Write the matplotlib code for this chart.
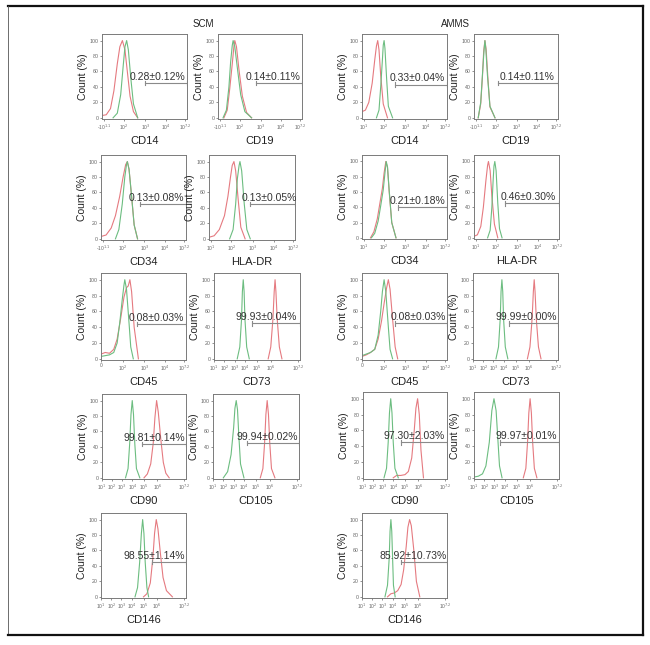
import matplotlib
matplotlib.use("Agg")
from matplotlib import pyplot as plt
from matplotlib.lines import Line2D

plt.rcParams['font.family'] = ['Liberation Sans', 'DejaVu Sans']

# panel order: row by row, SCM left two columns, AMMS right two columns
markers = ['CD14', 'CD19', 'CD14', 'CD19',
           'CD34', 'HLA-DR', 'CD34', 'HLA-DR',
           'CD45', 'CD73', 'CD45', 'CD73',
           'CD90', 'CD105', 'CD90', 'CD105',
           'CD146', 'CD146']
gate_text = ['0.28±0.12%', '0.14±0.11%', '0.33±0.04%', '0.14±0.11%',
             '0.13±0.08%', '0.13±0.05%', '0.21±0.18%', '0.46±0.30%',
             '0.08±0.03%', '99.93±0.04%', '0.08±0.03%', '99.99±0.00%',
             '99.81±0.14%', '99.94±0.02%', '97.30±2.03%', '99.97±0.01%',
             '98.55±1.14%', '85.92±10.73%']
text_start = [0.32, 0.33, 0.32, 0.31,
              0.32, 0.38, 0.33, 0.31,
              0.32, 0.25, 0.34, 0.27,
              0.25, 0.27, 0.24, 0.255,
              0.27, 0.21]
bar_start = [0.51, 0.45, 0.39, 0.28,
             0.46, 0.48, 0.42, 0.37,
             0.42, 0.44, 0.39, 0.42,
             0.48, 0.40, 0.45, 0.31,
             0.60, 0.46]
bar_y = [45, 45, 43, 45,
         45, 45, 40, 45,
         44, 45, 45, 45,
         44, 45, 45, 45,
         45, 45]
tick_set = ['d', 'd', 'a', 'd',
            'd', 'a', 'a', 'a',
            'c', 'b', 'c', 'b',
            'b', 'b', 'b', 'b',
            'b', 'b']

# isotype control (red) and antibody (green) histograms, x as fraction of axis
red_x = [
    [0.00, 0.05, 0.10, 0.14, 0.18, 0.21, 0.24, 0.27, 0.30, 0.33, 0.37, 0.42],
    [0.07, 0.11, 0.14, 0.17, 0.19, 0.20, 0.22, 0.25, 0.29, 0.34, 0.40],
    [0.00, 0.04, 0.08, 0.12, 0.15, 0.17, 0.185, 0.20, 0.22, 0.25, 0.30],
    [0.05, 0.08, 0.10, 0.115, 0.13, 0.145, 0.165, 0.19, 0.25],
    [0.00, 0.06, 0.12, 0.17, 0.22, 0.26, 0.29, 0.31, 0.33, 0.36, 0.39, 0.43],
    [0.00, 0.06, 0.12, 0.18, 0.22, 0.25, 0.27, 0.29, 0.31, 0.34, 0.37, 0.42],
    [0.10, 0.14, 0.18, 0.21, 0.24, 0.26, 0.28, 0.30, 0.32, 0.35, 0.40],
    [0.00, 0.04, 0.08, 0.11, 0.14, 0.16, 0.17, 0.19, 0.21, 0.24, 0.28],
    [0.00, 0.05, 0.10, 0.15, 0.19, 0.23, 0.27, 0.30, 0.32, 0.34, 0.36, 0.39, 0.44],
    [0.63, 0.66, 0.685, 0.70, 0.71, 0.72, 0.735, 0.76, 0.79],
    [0.00, 0.05, 0.10, 0.15, 0.19, 0.23, 0.26, 0.29, 0.31, 0.33, 0.36, 0.39, 0.42],
    [0.64, 0.67, 0.695, 0.71, 0.72, 0.73, 0.745, 0.77, 0.80],
    [0.50, 0.54, 0.58, 0.61, 0.63, 0.65, 0.67, 0.70, 0.73, 0.76, 0.80],
    [0.55, 0.58, 0.60, 0.615, 0.63, 0.645, 0.66, 0.68, 0.72],
    [0.36, 0.40, 0.45, 0.50, 0.54, 0.58, 0.61, 0.63, 0.65, 0.67, 0.69, 0.72],
    [0.58, 0.61, 0.63, 0.645, 0.66, 0.675, 0.69, 0.71, 0.74],
    [0.50, 0.54, 0.58, 0.61, 0.63, 0.65, 0.67, 0.70, 0.73, 0.77, 0.84],
    [0.30, 0.34, 0.38, 0.42, 0.46, 0.49, 0.52, 0.54, 0.56, 0.58, 0.61, 0.64, 0.68],
]
red_y = [
    [3, 4, 12, 35, 70, 92, 100, 88, 58, 28, 8, 0],
    [0, 10, 38, 70, 93, 100, 92, 62, 28, 7, 0],
    [8, 10, 20, 45, 75, 93, 100, 88, 55, 18, 0],
    [0, 18, 52, 86, 100, 88, 52, 14, 0],
    [3, 5, 14, 30, 55, 80, 96, 100, 90, 55, 18, 0],
    [2, 4, 12, 30, 55, 80, 95, 100, 88, 50, 15, 0],
    [0, 8, 25, 45, 65, 85, 100, 92, 60, 20, 0],
    [2, 4, 15, 40, 75, 95, 100, 88, 55, 18, 0],
    [6, 8, 7, 12, 25, 50, 78, 90, 92, 100, 85, 40, 0],
    [0, 15, 50, 85, 100, 85, 50, 15, 0],
    [3, 5, 8, 12, 25, 48, 70, 90, 100, 88, 50, 15, 0],
    [0, 15, 50, 85, 100, 85, 50, 15, 0],
    [0, 5, 18, 45, 78, 100, 85, 50, 20, 6, 0],
    [0, 12, 45, 82, 100, 82, 45, 12, 0],
    [0, 3, 3, 4, 8, 25, 60, 88, 100, 80, 35, 0],
    [0, 12, 45, 82, 100, 82, 45, 12, 0],
    [0, 4, 18, 50, 82, 100, 88, 55, 25, 8, 0],
    [0, 4, 5, 8, 16, 35, 65, 90, 100, 92, 60, 20, 0],
]
green_x = [
    [0.13, 0.18, 0.22, 0.25, 0.27, 0.29, 0.31, 0.34, 0.37, 0.42],
    [0.06, 0.10, 0.13, 0.15, 0.17, 0.18, 0.20, 0.23, 0.27, 0.32, 0.40],
    [0.17, 0.20, 0.22, 0.24, 0.25, 0.26, 0.27, 0.29, 0.31, 0.36],
    [0.05, 0.08, 0.10, 0.12, 0.13, 0.14, 0.16, 0.19, 0.25],
    [0.17, 0.21, 0.25, 0.28, 0.30, 0.31, 0.33, 0.36, 0.39, 0.43],
    [0.24, 0.28, 0.31, 0.33, 0.35, 0.36, 0.38, 0.41, 0.44, 0.48],
    [0.11, 0.15, 0.19, 0.22, 0.25, 0.27, 0.285, 0.30, 0.32, 0.35, 0.40],
    [0.16, 0.19, 0.21, 0.225, 0.235, 0.245, 0.26, 0.28, 0.30, 0.33],
    [0.00, 0.05, 0.10, 0.15, 0.19, 0.22, 0.25, 0.27, 0.28, 0.30, 0.33, 0.35, 0.38],
    [0.27, 0.30, 0.32, 0.33, 0.34, 0.35, 0.36, 0.38, 0.41],
    [0.00, 0.05, 0.10, 0.15, 0.19, 0.22, 0.24, 0.26, 0.28, 0.31, 0.33, 0.36],
    [0.27, 0.30, 0.32, 0.33, 0.34, 0.35, 0.36, 0.38, 0.41],
    [0.28, 0.31, 0.33, 0.345, 0.36, 0.375, 0.39, 0.41, 0.45],
    [0.12, 0.17, 0.21, 0.24, 0.255, 0.27, 0.285, 0.30, 0.32, 0.36],
    [0.25, 0.28, 0.30, 0.315, 0.33, 0.345, 0.36, 0.38, 0.42],
    [0.00, 0.05, 0.10, 0.14, 0.18, 0.21, 0.235, 0.26, 0.28, 0.30, 0.33],
    [0.40, 0.43, 0.455, 0.475, 0.49, 0.505, 0.52, 0.54, 0.56],
    [0.27, 0.30, 0.32, 0.33, 0.34, 0.35, 0.36, 0.37, 0.39],
]
green_y = [
    [0, 6, 30, 68, 92, 100, 88, 50, 18, 0],
    [0, 10, 40, 72, 94, 100, 92, 65, 30, 8, 0],
    [0, 10, 40, 75, 94, 100, 90, 50, 15, 0],
    [0, 20, 55, 88, 100, 90, 55, 15, 0],
    [0, 12, 45, 80, 96, 100, 90, 55, 18, 0],
    [0, 12, 45, 78, 95, 100, 88, 45, 12, 0],
    [0, 6, 22, 42, 63, 85, 100, 93, 62, 20, 0],
    [0, 10, 40, 75, 94, 100, 88, 45, 12, 0],
    [3, 4, 5, 8, 20, 45, 75, 93, 100, 88, 45, 15, 0],
    [0, 15, 50, 85, 100, 85, 50, 15, 0],
    [4, 6, 8, 12, 30, 60, 85, 100, 85, 40, 12, 0],
    [0, 15, 50, 85, 100, 85, 50, 15, 0],
    [0, 12, 45, 82, 100, 82, 45, 12, 0],
    [0, 8, 30, 65, 90, 100, 88, 55, 18, 0],
    [0, 12, 45, 82, 100, 82, 45, 12, 0],
    [1, 2, 5, 15, 45, 85, 100, 85, 50, 15, 0],
    [0, 12, 45, 82, 100, 82, 45, 12, 0],
    [0, 15, 50, 85, 100, 85, 50, 15, 0],
]

ticks = {
    'a': ([0.02, 0.26, 0.51, 0.75, 0.98],
          ['10$^{1}$', '10$^{2}$', '10$^{3}$', '10$^{4}$', '10$^{7.2}$']),
    'b': ([0.0, 0.12, 0.24, 0.36, 0.50, 0.66, 0.98],
          ['10$^{1}$', '10$^{2}$', '10$^{3}$', '10$^{4}$', '10$^{5}$', '10$^{6}$', '10$^{7.2}$']),
    'c': ([0.0, 0.26, 0.51, 0.75, 0.98],
          ['0', '10$^{2}$', '10$^{3}$', '10$^{4}$', '10$^{7.2}$']),
    'd': ([0.02, 0.26, 0.51, 0.75, 0.98],
          ['-10$^{1.1}$', '10$^{2}$', '10$^{3}$', '10$^{4}$', '10$^{7.2}$']),
}

# axes boxes in pixels: left, right, top, bottom
boxes = [
    (102, 187, 34, 119), (218, 302, 34, 119), (362, 447, 34, 119), (474, 558, 34, 119),
    (101, 186, 155, 240), (209, 295, 155, 240), (362, 447, 155, 239), (474, 559, 155, 239),
    (101, 186, 273, 360), (214, 300, 273, 360), (362, 447, 273, 360), (473, 558, 273, 360),
    (102, 186, 394, 479), (213, 299, 394, 479), (363, 447, 392, 479), (474, 559, 392, 479),
    (101, 186, 513, 598), (362, 447, 513, 598),
]

W, H = 650, 645
fig = plt.figure(figsize=(W / 100, H / 100), dpi=100)

red_c = '#e57a80'
green_c = '#6cbd80'

for i, (l, r, t, b) in enumerate(boxes):
    ax = fig.add_axes([l / W, 1 - b / H, (r - l) / W, (b - t) / H])
    ax.plot(red_x[i], red_y[i], color=red_c, lw=0.8)
    ax.plot(green_x[i], green_y[i], color=green_c, lw=0.8)
    ax.set_xlim(0, 1)
    ax.set_ylim(-1.5, 108.5)
    tp, tl = ticks[tick_set[i]]
    ax.set_xticks(tp)
    ax.set_xticklabels(tl, fontsize=3.5, color='#444444')
    ax.set_yticks([0, 20, 40, 60, 80, 100])
    ax.set_yticklabels(['0', '20', '40', '60', '80', '100'], fontsize=3.8, color='#444444')
    ax.tick_params(length=1.5, width=0.5, pad=1, colors='#666666')
    for s in ax.spines.values():
        s.set_color('#7a7a7a')
        s.set_linewidth(0.7)
    ax.set_ylabel('Count (%)', fontsize=7.5, labelpad=1, color='#222222')
    ax.set_xlabel(markers[i], fontsize=8, labelpad=3, color='#222222')
    # gate bar
    bs = bar_start[i]
    ax.plot([bs, 1.0], [bar_y[i], bar_y[i]], color='#8a8a8a', lw=0.8)
    ax.plot([bs, bs], [bar_y[i] - 3, bar_y[i] + 3], color='#8a8a8a', lw=0.8)
    ax.plot([1.0, 1.0], [bar_y[i] - 3, bar_y[i] + 3], color='#8a8a8a', lw=0.8)
    ax.text(text_start[i], bar_y[i] + 8, gate_text[i], fontsize=7.5, color='#333333',
            va='center', ha='left')

fig.text(203 / W, 1 - 24 / H, 'SCM', fontsize=7, ha='center', va='center', color='#222222')
fig.text(455 / W, 1 - 24 / H, 'AMMS', fontsize=7, ha='center', va='center', color='#222222')

# outer frame
fig.add_artist(Line2D([8 / W, 643 / W], [1 - 6 / H, 1 - 6 / H], color='#111111', lw=1.6))
fig.add_artist(Line2D([8 / W, 8 / W], [1 - 6 / H, 1 - 635 / H], color='#555555', lw=0.6))
fig.add_artist(Line2D([643 / W, 643 / W], [1 - 6 / H, 1 - 635 / H], color='#111111', lw=1.6))
fig.add_artist(Line2D([8 / W, 643 / W], [1 - 635 / H, 1 - 635 / H], color='#111111', lw=1.6))

fig.savefig('out.png', dpi=100)
